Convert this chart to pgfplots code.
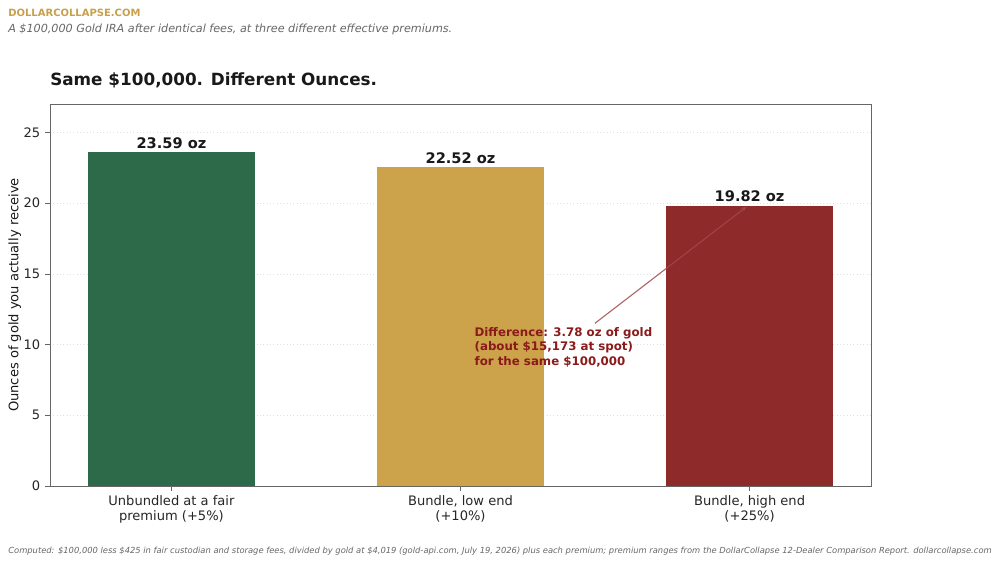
\documentclass[border=0pt]{standalone}
\usepackage{pgfplots}
\pgfplotsset{compat=1.18}
\usepackage{fontspec}
\setmainfont{DejaVu Sans}
\usetikzlibrary{arrows.meta}
\definecolor{dcgreen}{HTML}{2D6A4A}
\definecolor{dcgold}{HTML}{CCA24A}
\definecolor{dcred}{HTML}{8F2A2B}
\definecolor{annred}{HTML}{8B1A1A}
\definecolor{headgold}{HTML}{C9A04A}
\begin{document}
\begin{tikzpicture}
\path[use as bounding box] (0pt,0pt) rectangle (720pt,408.96pt);
\node[anchor=west,font=\fontsize{7.2}{9}\selectfont\bfseries,text=headgold,inner sep=0] at (5.76pt,399.6pt) {DOLLARCOLLAPSE.COM};
\node[anchor=west,font=\fontsize{8.05}{9.5}\selectfont\itshape,text=black!60,inner sep=0] at (5.76pt,388.1pt) {A \$100,000 Gold IRA after identical fees, at three different effective premiums.};
\node[anchor=west,font=\fontsize{12.1}{14}\selectfont\bfseries,text=black!90,inner sep=0] at (36pt,351.4pt) {Same \$100,000. Different Ounces.};
\node[anchor=center,inner sep=0,text=black!60] at (360pt,12.24pt) {\resizebox{708pt}{!}{\fontsize{6}{7}\selectfont\itshape Computed: \$100,000 less \$425 in fair custodian and storage fees, divided by gold at \$4,019 (gold-api.com, July 19, 2026) plus each premium; premium ranges from the DollarCollapse 12-Dealer Comparison Report. dollarcollapse.com}};
\begin{axis}[
  at={(36pt,59.04pt)}, anchor=south west,
  width=591.1pt, height=275.0pt, scale only axis,
  xmin=-0.42, xmax=2.42, ymin=0, ymax=27.0,
  xtick={0,1,2},
  xticklabels={{Unbundled at a fair\\premium (+5\%)},{Bundle, low end\\(+10\%)},{Bundle, high end\\(+25\%)}},
  xticklabel style={align=center,font=\fontsize{9.4}{10.8}\selectfont,text=black!85},
  ytick={0,5,10,15,20,25},
  yticklabel style={font=\fontsize{9.4}{10}\selectfont,text=black!85},
  /pgf/number format/assume math mode=true,
  ylabel={Ounces of gold you actually receive},
  ylabel style={font=\fontsize{9.4}{10}\selectfont,text=black!90},
  ylabel shift=-5pt,
  ymajorgrids, grid style={black!12,dotted},
  axis line style={black!60},
  tick style={black!60},
  major tick length=3.5pt,
  tick align=outside, xtick pos=bottom, ytick pos=left,
  clip=false,
  ybar, bar width=0.58, bar shift=0pt,
  nodes near coords={\pgfmathprintnumber[fixed,precision=2,fixed zerofill]{\pgfplotspointmeta}~oz},
  nodes near coords style={font=\fontsize{10.5}{12}\selectfont\bfseries,text=black!90,anchor=south,inner sep=1pt,yshift=1.5pt},
]
\addplot[fill=dcgreen,draw=none] coordinates {(0,23.59)};
\addplot[fill=dcgold,draw=none] coordinates {(1,22.52)};
\addplot[fill=dcred,draw=none] coordinates {(2,19.82)};
\draw[-{Stealth[length=4pt,width=3pt]},annred!80,line width=0.8pt,opacity=0.85] (axis cs:1.465,11.5) -- (axis cs:1.99,19.75);
\node[anchor=west,align=left,font=\fontsize{8.5}{10.4}\selectfont\bfseries,text=annred,inner sep=0] at (axis cs:1.048,9.8) {Difference: 3.78 oz of gold\\(about \$15,173 at spot)\\for the same \$100,000};
\end{axis}
\end{tikzpicture}
\end{document}
